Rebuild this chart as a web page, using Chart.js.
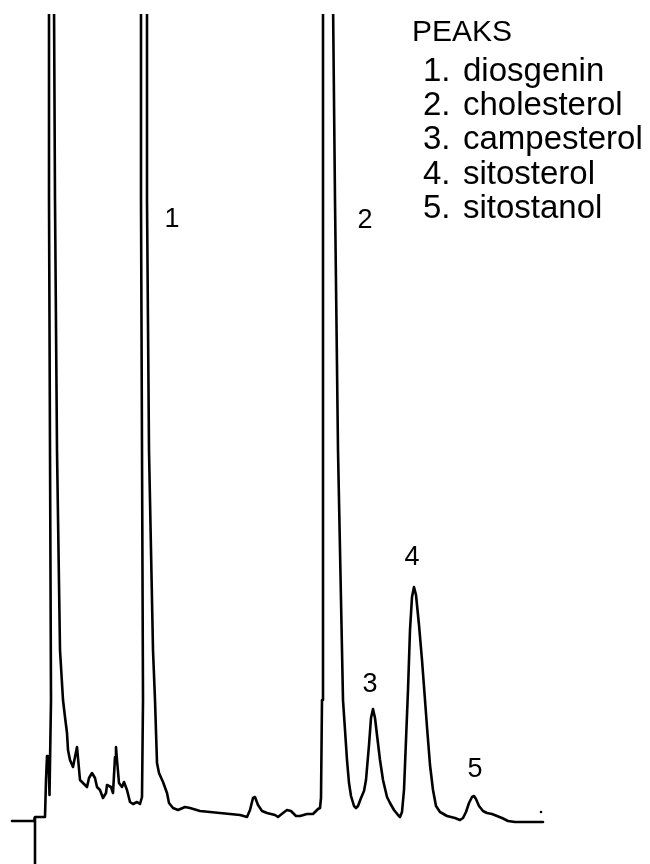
<!DOCTYPE html>
<html>
<head>
<meta charset="utf-8">
<script src="https://cdn.jsdelivr.net/npm/chart.js@4/dist/chart.umd.min.js"></script>
<style>
html,body{margin:0;padding:0;background:#fff;}
#wrap{width:650px;height:864px;}
</style>
</head>
<body>
<div id="wrap"><canvas id="c" width="650" height="864"></canvas></div>
<script>
// Retention time (arbitrary units) and detector signal (arbitrary units)
const time = [
  1.2, 3.4, 3.5, 4.5, 4.6, 4.7, 4.8, 4.85, 4.95, 5.1, 5.0, 4.9, 4.9, 5.15,
  5.4, 5.5, 5.7, 6.0, 6.3, 6.5, 6.7, 6.8, 7.0, 7.3, 7.7, 8.0, 8.3, 8.7, 8.9,
  9.2, 9.5, 9.7, 10.0, 10.3, 10.6, 10.7, 11.1, 11.3, 11.5, 11.6, 11.7, 11.9,
  12.2, 12.4, 12.7, 13.0, 13.3, 13.7, 14.0, 14.2, 14.3, 14.2, 14.1, 14.1, 14.4,
  14.7, 14.7, 14.9, 15.3, 15.5, 15.7, 15.9, 16.3, 16.7, 16.9, 17.3, 17.8, 18.5,
  19.0, 20.0, 21.0, 22.0, 23.0, 24.0, 24.7, 25.0, 25.3, 25.5, 25.8, 26.2, 26.7,
  27.5, 27.8, 28.3, 28.7, 29.1, 29.6, 30.0, 30.7, 31.3, 31.8, 32.0, 32.1, 32.2,
  32.3, 32.3, 32.3, 32.8, 33.3, 33.5, 33.8, 34.3, 34.5, 34.7, 34.9, 35.1, 35.4,
  35.6, 35.8, 36.1, 36.4, 36.6, 36.9, 37.1, 37.3, 37.5, 37.7, 38.0, 38.3, 38.7,
  39.0, 39.4, 39.8, 40.0, 40.2, 40.4, 40.6, 40.8, 41.0, 41.2, 41.4, 41.6, 41.9,
  42.2, 42.5, 42.7, 43.0, 43.3, 43.6, 44.0, 44.7, 45.5, 46.0, 46.3, 46.6, 46.9,
  47.2, 47.4, 47.6, 47.9, 48.3, 48.7, 49.2, 49.7, 50.2, 50.8, 51.5, 54.3
];
const signal = [
  0, 0, 0.4, 0.4, 4.1, 6.5, 4.9, 6.3, 2.6, 12.1, 37.1, 62.1, 82.1, 102,
  82.1, 62.1, 37.1, 17.1, 12.1, 10.4, 8.8, 7.1, 6.1, 5.4, 7.4, 4.1, 3.8, 3.4, 4.3,
  4.8, 4.3, 3.4, 3.1, 2.3, 2.8, 3.6, 3.4, 2.8, 6.4, 7.4, 6.1, 3.8,
  3.4, 3.9, 3.1, 1.9, 1.7, 1.9, 1.7, 2.4, 12.1, 37.1, 62.1, 82.1, 102,
  82.1, 62.1, 37.1, 17.1, 12.1, 5.8, 4.8, 3.9, 2.8, 1.8, 1.3, 1.1, 1.4,
  1.3, 1.0, 0.9, 0.8, 0.7, 0.6, 0.4, 1.1, 2.3, 2.4, 1.6, 1.0, 0.8,
  0.6, 0.4, 0.8, 1.1, 1.0, 0.5, 0.5, 0.7, 0.7, 1.2, 1.3, 2.3, 12.1,
  37.1, 62.1, 82.1, 102, 82.1, 62.1, 37.1, 12.1, 9.1, 6.1, 3.8, 2.5, 1.5,
  1.3, 1.5, 2.3, 3.0, 4.1, 7.6, 10.3, 11.2, 10.3, 8.6, 6.1, 4.1, 2.4,
  1.8, 1.1, 0.6, 0.4, 0.9, 3.1, 8.1, 13.1, 19.1, 22.4, 23.4, 22.6, 19.6,
  16.1, 12.1, 9.4, 5.6, 3.1, 1.5, 0.9, 0.5, 0.3, 0.1, 0.3, 0.9, 1.8,
  2.4, 2.5, 2.2, 1.5, 1.0, 0.8, 0.7, 0.5, 0.3, 0, -0.1, -0.1
];
// Injection marker (vertical stroke below the baseline)
const markerTime = [3.5, 3.5];
const markerSignal = [0.4, -8];
// Stray dot near end of trace
const dotTime = [54.1];
const dotSignal = [0.9];

// Peak labels
const peakNumbers = ['1', '2', '3', '4', '5'];
const peakLabelTime = [17.2, 36.5, 37.0, 41.2, 47.5];
const peakLabelSignal = [60.1, 60.0, 13.6, 26.3, 5.1];

// Legend text
const legendTitle = 'PEAKS';
const legendNumbers = ['1.', '2.', '3.', '4.', '5.'];
const legendNames = ['diosgenin', 'cholesterol', 'campesterol', 'sitosterol', 'sitostanol'];

const toXY = (xs, ys) => xs.map((x, i) => ({x: x, y: ys[i]}));

const textPlugin = {
  id: 'texts',
  afterDatasetsDraw(chart) {
    const ctx = chart.ctx;
    const xs = chart.scales.x, ys = chart.scales.y;
    ctx.save();
    ctx.fillStyle = '#000';
    // peak labels
    ctx.font = '27px "Liberation Sans", Arial, sans-serif';
    ctx.textAlign = 'center';
    ctx.textBaseline = 'middle';
    peakNumbers.forEach((t, i) => {
      ctx.fillText(t, xs.getPixelForValue(peakLabelTime[i]), ys.getPixelForValue(peakLabelSignal[i]));
    });
    // legend
    ctx.textAlign = 'left';
    ctx.textBaseline = 'alphabetic';
    ctx.font = '30px "Liberation Sans", Arial, sans-serif';
    ctx.fillText(legendTitle, 412, 41);
    ctx.font = '33px "Liberation Sans", Arial, sans-serif';
    legendNames.forEach((name, i) => {
      const yb = 81 + i * 34.2;
      ctx.fillText(legendNumbers[i], 423, yb);
      ctx.fillText(name, 463, yb);
    });
    ctx.restore();
  }
};

const bgPlugin = {
  id: 'bg',
  beforeDraw(chart) {
    const ctx = chart.ctx;
    ctx.save();
    ctx.fillStyle = '#fff';
    ctx.fillRect(0, 0, chart.width, chart.height);
    ctx.restore();
  }
};

new Chart(document.getElementById('c'), {
  type: 'line',
  data: {
    datasets: [
      {
        label: 'signal',
        data: toXY(time, signal),
        borderColor: '#000',
        borderWidth: 2.6,
        pointRadius: 0,
        tension: 0,
        borderJoinStyle: 'round',
        borderCapStyle: 'round',
        clip: 0
      },
      {
        label: 'marker',
        data: toXY(markerTime, markerSignal),
        borderColor: '#000',
        borderWidth: 2.6,
        pointRadius: 0,
        clip: 0
      },
      {
        label: 'dot',
        type: 'scatter',
        data: toXY(dotTime, dotSignal),
        backgroundColor: '#000',
        borderWidth: 0,
        pointRadius: 1.3,
        pointHoverRadius: 0,
        showLine: false
      }
    ]
  },
  options: {
    responsive: false,
    animation: false,
    events: [],
    layout: {autoPadding: false, padding: {top: 14, left: 0, right: 0, bottom: 0}},
    scales: {
      x: {type: 'linear', display: false, min: 0, max: 65},
      y: {type: 'linear', display: false, min: -4.3, max: 80.7}
    },
    plugins: {legend: {display: false}, tooltip: {enabled: false}}
  },
  plugins: [bgPlugin, textPlugin]
});
</script>
</body>
</html>
